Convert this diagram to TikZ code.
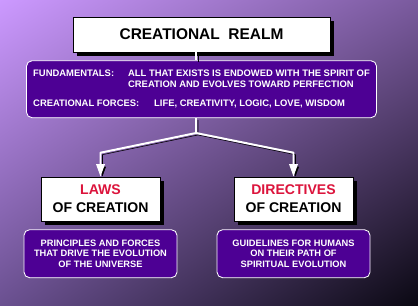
\documentclass[tikz,border=0pt]{standalone}
\usepackage{fontspec}
\setmainfont{Liberation Sans}
\usetikzlibrary{arrows.meta, positioning, calc, shadows, shadings}

\definecolor{bgtl}{HTML}{CC99FF}
\definecolor{bgtr}{HTML}{7A5A9E}
\definecolor{bgbl}{HTML}{6A5090}
\definecolor{bgbr}{HTML}{0A0812}
\definecolor{boxpurple}{HTML}{4D0094}
\definecolor{lawred}{HTML}{DC143C}

\begin{document}
\begin{tikzpicture}[
        x=0.025cm, y=-0.025cm,
        node distance=0.2cm and 1cm,
        titlebox/.style={rectangle, draw=black, fill=white, align=center, drop shadow={shadow xshift=0.1cm, shadow yshift=-0.1cm, fill=black, opacity=1}},
        infobox/.style={rectangle, draw=white, fill=boxpurple, text=white, rounded corners=4pt, line width=0.6pt},
        wire/.style={white, line width=1.4pt, line join=round, preaction={draw=black, transform canvas={shift={(1.4pt,-1.4pt)}}}},
        link/.style={wire, -{Triangle[length=9pt, width=6pt]}}
    ]
        \useasboundingbox (0,0) rectangle (418,306);
        \shade[upper left=bgtl, upper right=bgtr, lower left=bgbl, lower right=bgbr] (0,0) rectangle (418,306);

        \node[titlebox, minimum width=6.43cm, minimum height=0.875cm, font=\fontsize{11}{13}\selectfont\bfseries] (realm) at (201.5,34.5) {CREATIONAL\ \ REALM};
        \node[infobox, below=0.2cm of realm, minimum width=8.75cm, minimum height=1.425cm, align=left, font=\fontsize{6.7}{7.6}\selectfont\bfseries] (fund) {\makebox[67.5pt][l]{FUNDAMENTALS:}ALL THAT EXISTS IS ENDOWED WITH THE SPIRIT OF\\\hspace*{67.5pt}CREATION AND EVOLVES TOWARD PERFECTION\\[6.2pt]\makebox[86pt][l]{CREATIONAL FORCES:}LIFE, CREATIVITY, LOGIC, LOVE, WISDOM};
        \node[titlebox, minimum width=2.975cm, minimum height=1.1cm, font=\fontsize{10}{12.6}\selectfont\bfseries] (laws) at (100.5,199) {\textcolor{lawred}{LAWS}\\OF CREATION};
        \node[titlebox, minimum width=2.975cm, minimum height=1.1cm, font=\fontsize{10}{12.6}\selectfont\bfseries] (directives) at (293.5,199) {\textcolor{lawred}{DIRECTIVES}\\OF CREATION};
        \node[infobox, below=0.2cm of laws, minimum width=3.825cm, minimum height=1.2cm, align=center, font=\fontsize{6.6}{7.6}\selectfont\bfseries] (lawsinfo) {PRINCIPLES AND FORCES\\THAT DRIVE THE EVOLUTION\\OF THE UNIVERSE};
        \node[infobox, below=0.2cm of directives, minimum width=3.825cm, minimum height=1.2cm, align=center, font=\fontsize{6.6}{7.6}\selectfont\bfseries] (dirinfo) {GUIDELINES FOR HUMANS\\ON THEIR PATH OF\\SPIRITUAL EVOLUTION};

        \coordinate (split) at (196,133);
        \draw[wire] (realm.south -| split) -- (fund.north -| split);
        \draw[link] (fund.south -| split) -- (split) -- ($(laws.north)+(0,0.6cm)$) -- (laws.north);
        \draw[link] (split) -- ($(directives.north)+(0,0.6cm)$) -- (directives.north);
    \end{tikzpicture}
\end{document}
